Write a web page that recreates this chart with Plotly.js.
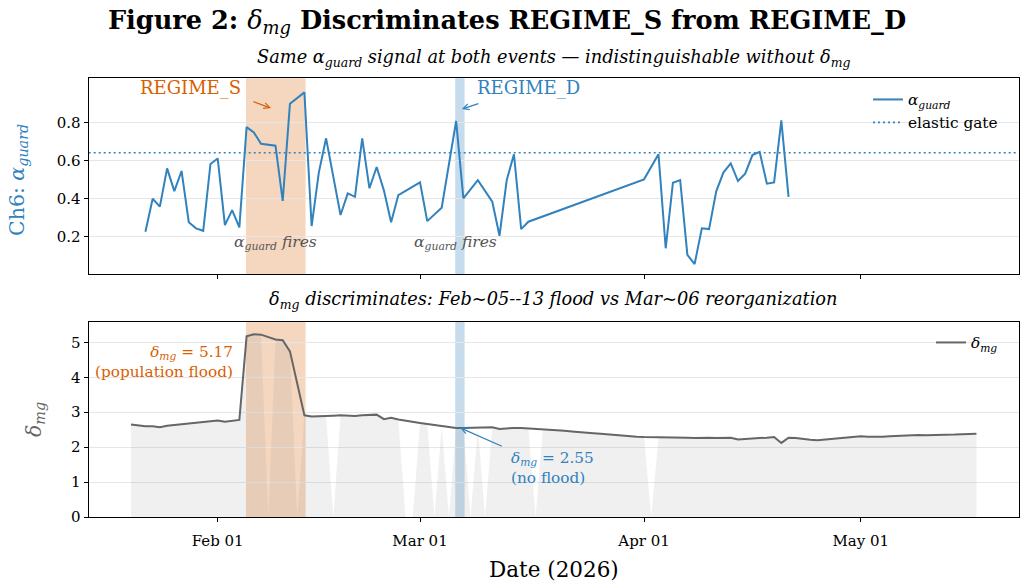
<!DOCTYPE html>
<html>
<head>
<meta charset="utf-8">
<script src="https://cdn.plot.ly/plotly-3.0.1.min.js"></script>
<style>
  html, body { margin: 0; padding: 0; background: #ffffff; }
  #chart { width: 1026px; height: 587px; }
</style>
</head>
<body>
<div id="chart"></div>
<script>
// ---- Ch6 alpha_guard readings (days without a reading are simply absent) ----
const alphaDates = [
  '2026-01-22','2026-01-23','2026-01-24','2026-01-25','2026-01-26','2026-01-27','2026-01-28',
  '2026-01-29','2026-01-30','2026-01-31','2026-02-01','2026-02-02','2026-02-03','2026-02-04',
  '2026-02-05','2026-02-06','2026-02-07','2026-02-09','2026-02-10','2026-02-11','2026-02-13',
  '2026-02-14','2026-02-15','2026-02-16','2026-02-18','2026-02-19','2026-02-20','2026-02-21',
  '2026-02-22','2026-02-23','2026-02-24','2026-02-25','2026-02-26','2026-03-01','2026-03-02',
  '2026-03-04','2026-03-06','2026-03-07','2026-03-09','2026-03-11','2026-03-12','2026-03-13',
  '2026-03-14','2026-03-15','2026-03-16','2026-04-01','2026-04-03','2026-04-04','2026-04-05',
  '2026-04-06','2026-04-07','2026-04-08','2026-04-09','2026-04-10','2026-04-11','2026-04-12',
  '2026-04-13','2026-04-14','2026-04-15','2026-04-16','2026-04-17','2026-04-18','2026-04-19',
  '2026-04-20','2026-04-21'
];
const alphaValues = [
  0.224, 0.398, 0.356, 0.558, 0.438, 0.544, 0.274,
  0.242, 0.229, 0.581, 0.610, 0.259, 0.338, 0.247,
  0.775, 0.747, 0.687, 0.677, 0.386, 0.898, 0.958,
  0.254, 0.537, 0.716, 0.312, 0.426, 0.408, 0.716,
  0.453, 0.565, 0.442, 0.274, 0.417, 0.484, 0.280,
  0.351, 0.807, 0.400, 0.496, 0.382, 0.203, 0.496,
  0.632, 0.238, 0.277, 0.500, 0.632, 0.137, 0.482,
  0.496, 0.102, 0.054, 0.242, 0.238, 0.438, 0.537,
  0.584, 0.491, 0.530, 0.628, 0.645, 0.477, 0.484,
  0.810, 0.408
];
const elasticGate = 0.64;

// ---- daily delta_mg, starting 2026-01-20 ----
const deltaStart = '2026-01-20';
const deltaValues = [
  // Jan 20-31
  2.65, 2.62, 2.60, 2.60, 2.57, 2.61, 2.63, 2.65, 2.68, 2.70, 2.71, 2.74,
  // Feb
  2.76, 2.73, 2.75, 2.78, 5.17, 5.23, 5.22, 5.15, 5.08, 5.06, 4.74, 3.83, 2.91, 2.88,
  2.88, 2.89, 2.90, 2.91, 2.90, 2.89, 2.91, 2.92, 2.93, 2.80, 2.84, 2.79, 2.75, 2.72,
  // Mar
  2.69, 2.66, 2.63, 2.60, 2.58, 2.55, 2.55, 2.55, 2.56, 2.56, 2.57, 2.52, 2.54, 2.55,
  2.55, 2.54, 2.53, 2.52, 2.51, 2.49, 2.47, 2.45, 2.44, 2.42, 2.40, 2.38, 2.36, 2.35,
  2.33, 2.31, 2.30,
  // Apr
  2.29, 2.29, 2.28, 2.28, 2.27, 2.28, 2.27, 2.26, 2.27, 2.27, 2.26, 2.27, 2.27, 2.22,
  2.24, 2.25, 2.26, 2.27, 2.29, 2.12, 2.27, 2.26, 2.23, 2.21, 2.20, 2.22, 2.25, 2.27,
  2.29, 2.30,
  // May 1-17
  2.31, 2.30, 2.29, 2.30, 2.31, 2.32, 2.33, 2.35, 2.35, 2.34, 2.34, 2.35, 2.36, 2.36,
  2.37, 2.38, 2.38
];
// days where the shaded area drops out
const unshadedDates = [
  '2026-02-08','2026-02-12','2026-02-17','2026-02-27','2026-02-28','2026-03-03',
  '2026-03-05','2026-03-08','2026-03-10','2026-03-17','2026-04-02'
];

// ---- events ----
const floodWindow = ['2026-02-04 22:00', '2026-02-13 04:00'];
const reorgWindow = ['2026-03-05 21:00', '2026-03-07 04:00'];
const floodDelta = 5.17;
const reorgDate = '2026-03-06 14:00';
const reorgDelta = 2.55;

const xTickDates = ['2026-02-01', '2026-03-01', '2026-04-01', '2026-05-01'];
const xRange = ['2026-01-14 03:36', '2026-05-22 20:24'];

// ---- colours ----
const BLUE = '#3182bd';
const ORANGE = '#d95f02';
const GREY = '#666666';
const SERIF = 'DejaVu Serif, serif';

function dailyDates(start, n) {
  const [y, m, d] = start.split('-').map(Number);
  const out = [];
  for (let i = 0; i < n; i++) {
    out.push(new Date(Date.UTC(y, m - 1, d + i)).toISOString().slice(0, 10));
  }
  return out;
}
const deltaDates = dailyDates(deltaStart, deltaValues.length);
const shadeValues = deltaDates.map((d, i) => unshadedDates.includes(d) ? 0 : deltaValues[i]);

const DELTA = '<i>δ</i><sub><i>mg</i></sub>';
const ALPHA = '<i>α</i><sub><i>guard</i></sub>';

const traces = [
  {
    x: alphaDates, y: alphaValues, type: 'scatter', mode: 'lines',
    name: ALPHA, line: { color: BLUE, width: 2 },
    xaxis: 'x', yaxis: 'y', legend: 'legend', hoverinfo: 'skip'
  },
  {
    x: xRange, y: [elasticGate, elasticGate], type: 'scatter', mode: 'lines',
    name: 'elastic gate', line: { color: BLUE, width: 1.6, dash: '2px,3px' },
    xaxis: 'x', yaxis: 'y', legend: 'legend', hoverinfo: 'skip'
  },
  {
    x: deltaDates, y: shadeValues, type: 'scatter', mode: 'none',
    fill: 'tozeroy', fillcolor: 'rgba(128,128,128,0.12)',
    showlegend: false, xaxis: 'x2', yaxis: 'y2', hoverinfo: 'skip'
  },
  {
    x: deltaDates, y: deltaValues, type: 'scatter', mode: 'lines',
    name: DELTA, line: { color: GREY, width: 2 },
    xaxis: 'x2', yaxis: 'y2', legend: 'legend2', hoverinfo: 'skip'
  }
];

const W = 1026, H = 587;
const px = v => v / W;
const py = v => 1 - v / H;

const xDomain = [px(88.7), px(1018.7)];
const axisCommon = {
  showline: true, linecolor: '#000000', linewidth: 1.2, mirror: true,
  ticks: 'outside', ticklen: 4, tickwidth: 1, tickcolor: '#000000',
  zeroline: false, tickfont: { family: SERIF, size: 15, color: '#000000' }
};

const shapes = [
  { type: 'rect', xref: 'x', yref: 'y domain', x0: floodWindow[0], x1: floodWindow[1], y0: 0, y1: 1,
    fillcolor: 'rgba(217,95,2,0.25)', line: { width: 0 }, layer: 'below' },
  { type: 'rect', xref: 'x', yref: 'y domain', x0: reorgWindow[0], x1: reorgWindow[1], y0: 0, y1: 1,
    fillcolor: 'rgba(49,130,189,0.28)', line: { width: 0 }, layer: 'below' },
  { type: 'rect', xref: 'x2', yref: 'y2 domain', x0: floodWindow[0], x1: floodWindow[1], y0: 0, y1: 1,
    fillcolor: 'rgba(217,95,2,0.25)', line: { width: 0 }, layer: 'below' },
  { type: 'rect', xref: 'x2', yref: 'y2 domain', x0: reorgWindow[0], x1: reorgWindow[1], y0: 0, y1: 1,
    fillcolor: 'rgba(49,130,189,0.28)', line: { width: 0 }, layer: 'below' }
];

const annotations = [
  // panel titles
  { xref: 'paper', yref: 'paper', x: px(553.7), y: py(58), showarrow: false,
    text: '<i>Same </i>' + ALPHA + '<i> signal at both events — indistinguishable without </i>' + DELTA,
    font: { family: SERIF, size: 17.8, color: '#000' }, xanchor: 'center', yanchor: 'middle' },
  { xref: 'paper', yref: 'paper', x: px(553.7), y: py(300), showarrow: false,
    text: DELTA + '<i> discriminates: Feb~05--13 flood vs Mar~06 reorganization</i>',
    font: { family: SERIF, size: 17.8, color: '#000' }, xanchor: 'center', yanchor: 'middle' },
  // axis titles
  { xref: 'paper', yref: 'paper', x: px(18), y: py(180), showarrow: false, textangle: -90,
    text: 'Ch6: ' + ALPHA, font: { family: SERIF, size: 20.5, color: BLUE },
    xanchor: 'center', yanchor: 'middle' },
  { xref: 'paper', yref: 'paper', x: px(35), y: py(420), showarrow: false, textangle: -90,
    text: DELTA, font: { family: SERIF, size: 20.5, color: GREY },
    xanchor: 'center', yanchor: 'middle' },
  { xref: 'paper', yref: 'paper', x: px(553.7), y: py(569), showarrow: false,
    text: 'Date (2026)', font: { family: SERIF, size: 21.5, color: '#000' },
    xanchor: 'center', yanchor: 'middle' },
  // top panel labels
  { xref: 'paper', yref: 'paper', x: px(190.5), y: py(88), showarrow: false,
    text: 'REGIME_S', font: { family: SERIF, size: 18, color: ORANGE }, xanchor: 'center', yanchor: 'middle' },
  { xref: 'x', yref: 'y', x: '2026-02-08 09:00', y: 0.875, ax: -19, ay: -7, text: '',
    showarrow: true, arrowhead: 5, arrowsize: 0.9, arrowwidth: 1.3, arrowcolor: ORANGE, standoff: 0 },
  { xref: 'paper', yref: 'paper', x: px(528.5), y: py(88), showarrow: false,
    text: 'REGIME_D', font: { family: SERIF, size: 18, color: BLUE }, xanchor: 'center', yanchor: 'middle' },
  { xref: 'x', yref: 'y', x: '2026-03-06 19:00', y: 0.87, ax: 18, ay: -6, text: '',
    showarrow: true, arrowhead: 5, arrowsize: 0.9, arrowwidth: 1.3, arrowcolor: BLUE, standoff: 0 },
  { xref: 'paper', yref: 'paper', x: px(275), y: py(243), showarrow: false,
    text: ALPHA + ' <i>fires</i>', font: { family: SERIF, size: 15.5, color: '#555555' },
    xanchor: 'center', yanchor: 'middle' },
  { xref: 'paper', yref: 'paper', x: px(455), y: py(243), showarrow: false,
    text: ALPHA + ' <i>fires</i>', font: { family: SERIF, size: 15.5, color: '#555555' },
    xanchor: 'center', yanchor: 'middle' },
  // bottom panel labels
  { xref: 'paper', yref: 'paper', x: px(235), y: py(362), showarrow: false, align: 'right',
    text: DELTA + ' = ' + floodDelta.toFixed(2) + '<br>(population flood)',
    font: { family: SERIF, size: 15.3, color: ORANGE }, xanchor: 'right', yanchor: 'middle' },
  { xref: 'x2', yref: 'y2', x: reorgDate, y: reorgDelta, ax: 43, ay: 19, text: '',
    showarrow: true, arrowhead: 5, arrowsize: 0.9, arrowwidth: 1.3, arrowcolor: BLUE, standoff: 0 },
  { xref: 'paper', yref: 'paper', x: px(509), y: py(468), showarrow: false, align: 'left',
    text: DELTA + ' = ' + reorgDelta.toFixed(2) + '<br>(no flood)',
    font: { family: SERIF, size: 15.3, color: BLUE }, xanchor: 'left', yanchor: 'middle' }
];

const layout = {
  width: W, height: H,
  margin: { l: 0, r: 0, t: 0, b: 0 },
  paper_bgcolor: '#ffffff', plot_bgcolor: '#ffffff',
  font: { family: SERIF, color: '#000000' },
  title: {
    text: 'Figure 2: <span style="font-weight:400"><i>δ</i><sub><i>mg</i></sub></span> Discriminates REGIME_S from REGIME_D',
    font: { family: SERIF, size: 25.6, color: '#000000', weight: 'bold' },
    x: px(507), xanchor: 'center', xref: 'paper',
    y: py(20), yanchor: 'middle', yref: 'container'
  },
  xaxis: Object.assign({}, axisCommon, {
    domain: xDomain, anchor: 'y', type: 'date', range: xRange,
    tickvals: xTickDates, showticklabels: false, showgrid: false
  }),
  yaxis: Object.assign({}, axisCommon, {
    domain: [py(274), py(78.3)], anchor: 'x', range: [0.0016, 1.032],
    tickvals: [0.2, 0.4, 0.6, 0.8], ticktext: ['0.2', '0.4', '0.6', '0.8'],
    showgrid: true, gridcolor: '#e6e6e6', gridwidth: 1
  }),
  xaxis2: Object.assign({}, axisCommon, {
    domain: xDomain, anchor: 'y2', type: 'date', range: xRange, matches: 'x',
    tickvals: xTickDates, tickformat: '%b %d', showgrid: false, ticklabelstandoff: 6
  }),
  yaxis2: Object.assign({}, axisCommon, {
    domain: [py(517), py(321.7)], anchor: 'x2', range: [0, 5.59],
    tickvals: [0, 1, 2, 3, 4, 5], showgrid: true, gridcolor: '#e6e6e6', gridwidth: 1
  }),
  legend: {
    x: px(868), y: py(83), xanchor: 'left', yanchor: 'top',
    bgcolor: 'rgba(0,0,0,0)', borderwidth: 0, tracegroupgap: 0,
    font: { family: SERIF, size: 15.3, color: '#000000' }
  },
  legend2: {
    x: px(931), y: py(326), xanchor: 'left', yanchor: 'top',
    bgcolor: 'rgba(0,0,0,0)', borderwidth: 0,
    font: { family: SERIF, size: 15.3, color: '#000000' }
  },
  shapes: shapes,
  annotations: annotations,
  showlegend: true
};

Plotly.newPlot('chart', traces, layout, { staticPlot: true, displayModeBar: false });
</script>
</body>
</html>
